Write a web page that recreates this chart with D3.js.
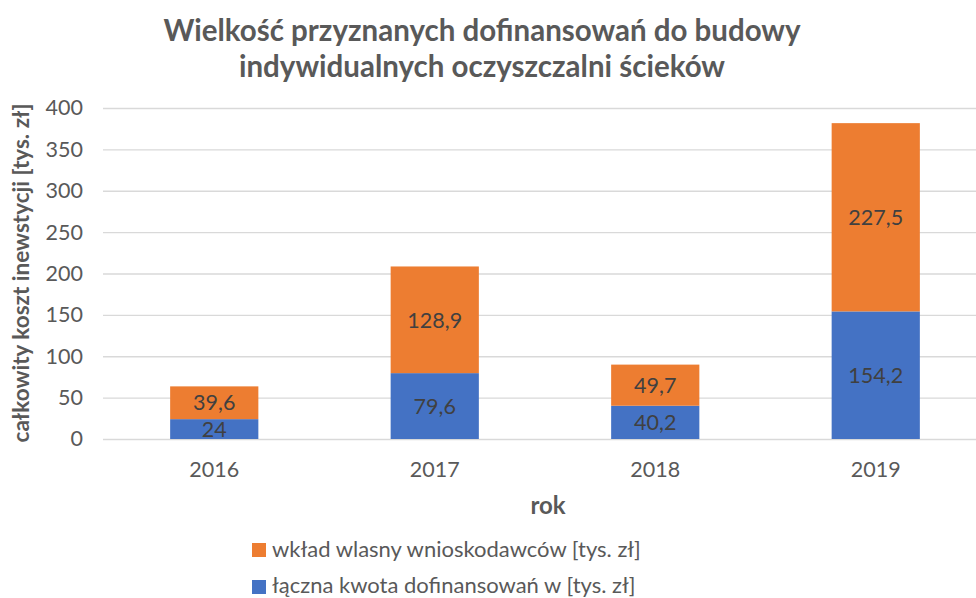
<!DOCTYPE html>
<meta charset="utf-8">
<style>
body { margin: 0; background: #fff; }
text { font-family: Lato, "Open Sans", sans-serif; }
.grid line { stroke: #d9d9d9; stroke-width: 1.3px; }
.grid path { display: none; }
.axis path, .axis line { display: none; }
.axis text { fill: #595959; font-size: 21.5px; font-family: Lato, sans-serif; }
</style>
<svg width="976" height="598"></svg>
<script src="https://d3js.org/d3.v7.min.js"></script>
<script>
var years = ["2016", "2017", "2018", "2019"];
var dofinansowanie = [24, 79.6, 40.2, 154.2];
var wkladWlasny = [39.6, 128.9, 49.7, 227.5];
var yTicks = [0, 50, 100, 150, 200, 250, 300, 350, 400];
var seriesNames = ["wkład wlasny wnioskodawców [tys. zł]", "łączna kwota dofinansowań w [tys. zł]"];

var svg = d3.select("svg");

var x = d3.scaleBand()
    .domain(years)
    .range([104, 986])
    .paddingInner(0.6)
    .paddingOuter(0.3);

var y = d3.scaleLinear()
    .domain([0, 400])
    .range([439, 108]);

var fmt = function(v) { return String(v).replace(".", ","); };

// title
svg.append("text")
    .attr("x", 482).attr("y", 41)
    .attr("text-anchor", "middle")
    .attr("font-size", "29.5px").attr("font-weight", "bold").attr("fill", "#595959")
    .text("Wielkość przyznanych dofinansowań do budowy");
svg.append("text")
    .attr("x", 482).attr("y", 77)
    .attr("text-anchor", "middle")
    .attr("font-size", "29.5px").attr("font-weight", "bold").attr("fill", "#595959")
    .text("indywidualnych oczyszczalni ścieków");

// gridlines
svg.append("g")
    .attr("class", "grid")
    .attr("transform", "translate(103,0)")
    .call(d3.axisLeft(y).tickValues(yTicks).tickSize(-880).tickFormat(""));

svg.append("g")
    .attr("class", "axis")
    .attr("transform", "translate(83,0)")
    .call(d3.axisLeft(y).tickValues(yTicks).tickSize(0).tickPadding(0));

svg.append("g")
    .attr("class", "axis")
    .attr("transform", "translate(0,462)")
    .call(d3.axisBottom(x).tickSize(0).tickPadding(0))
    .selectAll("text").attr("dy", "0.71em");

// bars
var data = years.map(function(d, i) {
  return { year: d, a: dofinansowanie[i], b: wkladWlasny[i] };
});

var g = svg.append("g");

g.selectAll(".blue").data(data).enter().append("rect")
    .attr("x", function(d) { return x(d.year); })
    .attr("width", x.bandwidth())
    .attr("y", function(d) { return y(d.a); })
    .attr("height", function(d) { return y(0) - y(d.a); })
    .attr("fill", "#4472c4");

g.selectAll(".orange").data(data).enter().append("rect")
    .attr("x", function(d) { return x(d.year); })
    .attr("width", x.bandwidth())
    .attr("y", function(d) { return y(d.a + d.b); })
    .attr("height", function(d) { return y(d.a) - y(d.a + d.b); })
    .attr("fill", "#ed7d31");

g.selectAll(".lblA").data(data).enter().append("text")
    .attr("x", function(d) { return x(d.year) + x.bandwidth() / 2; })
    .attr("y", function(d) { return y(d.a / 2); })
    .attr("dy", "0.36em")
    .attr("text-anchor", "middle")
    .attr("font-size", "21.5px").attr("fill", "#404040")
    .text(function(d) { return fmt(d.a); });

g.selectAll(".lblB").data(data).enter().append("text")
    .attr("x", function(d) { return x(d.year) + x.bandwidth() / 2; })
    .attr("y", function(d) { return y(d.a + d.b / 2); })
    .attr("dy", "0.36em")
    .attr("text-anchor", "middle")
    .attr("font-size", "21.5px").attr("fill", "#404040")
    .text(function(d) { return fmt(d.b); });

// axis titles
svg.append("text")
    .attr("x", 548).attr("y", 514)
    .attr("text-anchor", "middle")
    .attr("font-size", "24px").attr("font-weight", "bold").attr("fill", "#595959")
    .text("rok");

svg.append("text")
    .attr("transform", "translate(29,273) rotate(-90)")
    .attr("text-anchor", "middle")
    .attr("font-size", "22.5px").attr("font-weight", "bold").attr("fill", "#595959")
    .text("całkowity koszt inewstycji [tys. zł]");

// legend
var legend = svg.append("g");
var colors = ["#ed7d31", "#4472c4"];
seriesNames.forEach(function(name, i) {
  legend.append("rect")
      .attr("x", 252).attr("y", 543 + i * 37)
      .attr("width", 14).attr("height", 14)
      .attr("fill", colors[i]);
  legend.append("text")
      .attr("x", 272).attr("y", 557 + i * 36)
      .attr("font-size", "22px").attr("fill", "#595959")
      .text(name);
});
</script>
